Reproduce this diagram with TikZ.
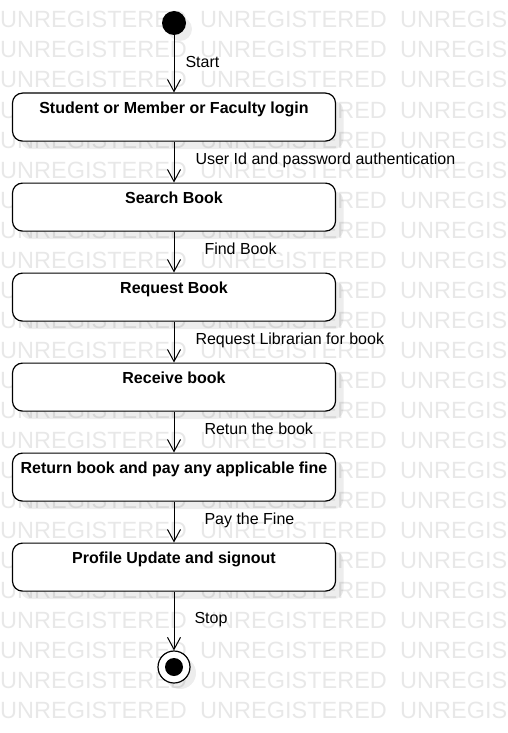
\documentclass[tikz,border=0pt]{standalone}
\usepackage{fontspec}
\setmainfont{Liberation Sans}
\usetikzlibrary{arrows.meta,shadows}

\begin{document}
\begin{tikzpicture}[x=1pt, y=-1pt,
  wmark/.style = {anchor=base west, inner sep=0, text=black!9, font=\fontsize{23.5}{24}\selectfont},
  state/.style = {draw, line width=1.2pt, rounded corners=10pt, fill=white, anchor=north,
    minimum width=323pt, inner sep=0, text height=20.5pt, text depth=27.5pt,
    font=\bfseries\fontsize{16}{19}\selectfont,
    drop shadow={shadow xshift=8pt, shadow yshift=-8pt, opacity=0.07, fill=black}},
  initial/.style = {circle, fill=black, minimum size=24pt, inner sep=0,
    drop shadow={shadow xshift=6pt, shadow yshift=-6pt, opacity=0.07, fill=black}},
  final/.style = {circle, draw, line width=1.2pt, fill=white, minimum size=32pt, inner sep=0,
    drop shadow={shadow xshift=6pt, shadow yshift=-6pt, opacity=0.07, fill=black}},
  flow/.style = {line width=1pt, -{Straight Barb[length=12pt, width=13pt, line width=1pt]}},
  lbl/.style = {anchor=base west, inner sep=0, yshift=-2pt, font=\fontsize{16}{19}\selectfont}]

\useasboundingbox (0, 0) rectangle (507, 733);
\clip (0, 0) rectangle (507, 733);

% watermark
\foreach \r in {0,...,23}
  \foreach \c in {0,1,2}
    \node[wmark] at (\c*200, 28+\r*30) {UNREGISTERED};

\node[initial] (Start) at (174, 23) {};

\node[state] (S1) at (174, 92.5) {Student or Member or Faculty login};
\node[state] (S2) at (174, 182.5) {Search Book};
\node[state] (S3) at (174, 272.5) {Request Book};
\node[state] (S4) at (174, 362.5) {Receive book};
\node[state] (S5) at (174, 452.5) {Return book and pay any applicable fine};
\node[state] (S6) at (174, 542.5) {Profile Update and signout};

\node[final] (Stop) at (174, 667) {};
\fill (Stop.center) circle (9pt);

\draw[flow] (Start) -- node[lbl, xshift=11pt, yshift=-1.5pt] {Start} (S1);
\draw[flow] (S1) -- node[lbl, xshift=21pt] {User Id and password authentication} (S2);
\draw[flow] (S2) -- node[lbl, xshift=30pt] {Find Book} (S3);
\draw[flow] (S3) -- node[lbl, xshift=21pt] {Request Librarian for book} (S4);
\draw[flow] (S4) -- node[lbl, xshift=30pt] {Retun the book} (S5);
\draw[flow] (S5) -- node[lbl, xshift=30pt] {Pay the Fine} (S6);
\draw[flow] (S6) -- node[lbl, xshift=20pt] {Stop} (Stop);
\end{tikzpicture}
\end{document}
